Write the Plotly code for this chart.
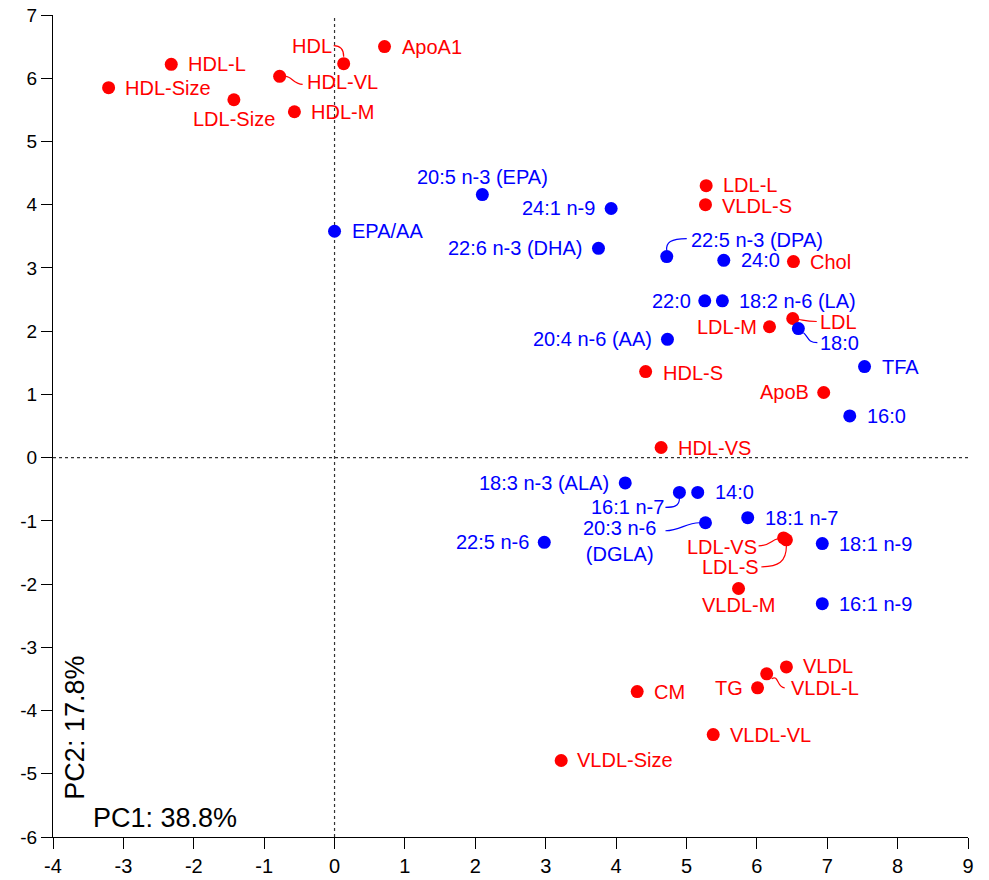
import plotly.graph_objects as go

# PCA loadings: lipoprotein / lipid measures (red) and fatty acids (blue)
lipid_names = ["HDL-L", "HDL-Size", "LDL-Size", "HDL-VL", "HDL-M", "HDL", "ApoA1",
               "LDL-L", "VLDL-S", "Chol", "LDL-M", "LDL", "HDL-S", "ApoB", "HDL-VS",
               "LDL-VS", "LDL-S", "VLDL-M", "VLDL", "VLDL-L", "TG", "CM", "VLDL-VL",
               "VLDL-Size"]
lipid_pc1 = [-2.32, -3.21, -1.43, -0.78, -0.57, 0.13, 0.71,
             5.28, 5.27, 6.52, 6.18, 6.51, 4.42, 6.95, 4.64,
             6.38, 6.42, 5.74, 6.42, 6.14, 6.01, 4.30, 5.38,
             3.22]
lipid_pc2 = [6.22, 5.85, 5.66, 6.03, 5.47, 6.23, 6.50,
             4.30, 4.00, 3.10, 2.07, 2.20, 1.36, 1.03, 0.16,
             -1.27, -1.30, -2.07, -3.31, -3.42, -3.64, -3.70, -4.38,
             -4.79]

fa_names = ["20:5 n-3 (EPA)", "24:1 n-9", "EPA/AA", "22:6 n-3 (DHA)", "22:5 n-3 (DPA)",
            "24:0", "22:0", "18:2 n-6 (LA)", "18:0", "20:4 n-6 (AA)", "TFA", "16:0",
            "18:3 n-3 (ALA)", "16:1 n-7", "14:0", "20:3 n-6<br>(DGLA)", "18:1 n-7",
            "22:5 n-6", "18:1 n-9", "16:1 n-9"]
fa_pc1 = [2.10, 3.93, 0.00, 3.75, 4.72,
          5.53, 5.26, 5.51, 6.59, 4.73, 7.53, 7.32,
          4.13, 4.90, 5.16, 5.27, 5.87,
          2.98, 6.93, 6.93]
fa_pc2 = [4.16, 3.94, 3.58, 3.31, 3.18,
          3.12, 2.48, 2.48, 2.04, 1.87, 1.44, 0.66,
          -0.40, -0.55, -0.55, -1.03, -0.95,
          -1.34, -1.36, -2.31]

x_ticks = list(range(-4, 10))
y_ticks = list(range(-6, 8))

RED = "#FF0000"
BLUE = "#0000FF"
FONT = "Liberation Sans, Arial, sans-serif"

# label placement: (xanchor, dx px, dy px downward)
placement = {
    "HDL-L": ("left", 16, 0), "HDL-Size": ("left", 15, 0), "LDL-Size": ("center", 0, 19),
    "HDL-VL": ("left", 26, 6), "HDL-M": ("left", 16, 0), "HDL": ("right", -11, -18),
    "ApoA1": ("left", 16, 0), "LDL-L": ("left", 16, -1), "VLDL-S": ("left", 16, 1),
    "Chol": ("left", 16, 0), "LDL-M": ("right", -12, 0), "LDL": ("left", 26, 3),
    "HDL-S": ("left", 16, 1), "ApoB": ("right", -14, 0), "HDL-VS": ("left", 16, 0),
    "LDL-VS": ("right", -26, 9), "LDL-S": ("right", -26, 27), "VLDL-M": ("center", 0, 16),
    "VLDL": ("left", 16, -1), "VLDL-L": ("left", 23, 14), "TG": ("right", -14, 0),
    "CM": ("left", 16, 0), "VLDL-VL": ("left", 16, 0), "VLDL-Size": ("left", 15, 0),
    "20:5 n-3 (EPA)": ("center", 0, -18), "24:1 n-9": ("right", -15, 0),
    "EPA/AA": ("left", 16, 0), "22:6 n-3 (DHA)": ("right", -14, 0),
    "22:5 n-3 (DPA)": ("left", 23, -17), "24:0": ("left", 16, 0), "22:0": ("right", -13, 0),
    "18:2 n-6 (LA)": ("left", 16, 0), "18:0": ("left", 21, 14),
    "20:4 n-6 (AA)": ("right", -14, 0), "TFA": ("left", 16, 0), "16:0": ("left", 16, 0),
    "18:3 n-3 (ALA)": ("right", -15, 0), "16:1 n-7": ("right", -14, 15),
    "14:0": ("left", 16, 0), "20:3 n-6<br>(DGLA)": ("right", -48, 18),
    "18:1 n-7": ("left", 16, 0), "22:5 n-6": ("right", -14, 0),
    "18:1 n-9": ("left", 16, 0), "16:1 n-9": ("left", 16, 0),
}

# curved leader lines, in pixel offsets from the point: start, ctrl1, ctrl2, end
leaders = {
    "HDL": [(0, -7), (0, -14), (-3, -18), (-10, -18)],
    "HDL-VL": [(6, 0), (12, 0), (14, 8), (23, 8)],
    "LDL": [(6, 1), (12, 2), (14, 3), (24, 3)],
    "18:0": [(5, 4), (10, 8), (9, 14), (19, 14)],
    "22:5 n-3 (DPA)": [(0, -6), (-1, -14), (4, -18), (20, -18)],
    "16:1 n-7": [(0, 6), (0, 14), (-6, 15), (-14, 15)],
    "20:3 n-6<br>(DGLA)": [(-6, 0), (-20, 0), (-25, 8), (-40, 8)],
    "LDL-VS": [(-6, 1), (-12, 2), (-14, 8), (-25, 8)],
    "LDL-S": [(0, 6), (0, 22), (-8, 27), (-25, 27)],
    "VLDL-L": [(5, 5), (12, 0), (10, 14), (18, 14)],
}

W, H = 989, 880
margin = dict(l=53, r=21, t=15, b=43)
xr, yr = (-4, 9), (-6, 7)
px_x = (W - margin["l"] - margin["r"]) / (xr[1] - xr[0])
px_y = (H - margin["t"] - margin["b"]) / (yr[1] - yr[0])

fig = go.Figure()
for names, xs, ys, col in [(lipid_names, lipid_pc1, lipid_pc2, RED),
                           (fa_names, fa_pc1, fa_pc2, BLUE)]:
    fig.add_trace(go.Scatter(x=xs, y=ys, mode="markers", text=names,
                             marker=dict(color=col, size=13, line=dict(width=0)),
                             hoverinfo="text+x+y", showlegend=False))

annotations = []
shapes = []
for names, xs, ys, col in [(lipid_names, lipid_pc1, lipid_pc2, RED),
                           (fa_names, fa_pc1, fa_pc2, BLUE)]:
    for n, x, y in zip(names, xs, ys):
        anchor, dx, dy = placement[n]
        annotations.append(dict(x=x, y=y, xref="x", yref="y", text=n, showarrow=False,
                                xanchor=anchor, yanchor="middle", xshift=dx, yshift=-dy,
                                align="center", borderpad=0,
                                font=dict(family=FONT, size=20, color=col)))
        if n in leaders:
            pts = [(x + ox / px_x, y - oy / px_y) for ox, oy in leaders[n]]
            path = "M {} {} C {} {}, {} {}, {} {}".format(
                *[v for p in pts for v in p])
            shapes.append(dict(type="path", path=path, xref="x", yref="y",
                               line=dict(color=col, width=1.2)))

# zero reference lines
shapes.append(dict(type="line", x0=0, x1=0, y0=yr[0], y1=yr[1], xref="x", yref="y",
                   line=dict(color="#333333", width=1.2, dash="3px,3px"), layer="below"))
shapes.append(dict(type="line", x0=xr[0], x1=xr[1], y0=0, y1=0, xref="x", yref="y",
                   line=dict(color="#333333", width=1.2, dash="3px,3px"), layer="below"))

# axis titles placed inside the plot area
annotations.append(dict(x=0.042, y=0.023, xref="paper", yref="paper", text="PC1: 38.8%",
                        showarrow=False, xanchor="left", yanchor="middle",
                        font=dict(family=FONT, size=27, color="black")))
annotations.append(dict(x=0.024, y=0.133, xref="paper", yref="paper", text="PC2: 17.8%",
                        showarrow=False, xanchor="center", yanchor="middle", textangle=-90,
                        font=dict(family=FONT, size=27, color="black")))

axis_common = dict(showgrid=False, zeroline=False, showline=True, linecolor="black",
                   linewidth=1.3, ticks="outside", ticklen=11, tickwidth=1.3,
                   tickcolor="black", mirror=False, automargin=False)

fig.update_layout(
    width=W, height=H, margin=margin,
    paper_bgcolor="white", plot_bgcolor="white",
    xaxis=dict(range=list(xr), tickvals=x_ticks, ticktext=[str(t) for t in x_ticks],
               tickfont=dict(family=FONT, size=20, color="black"), **axis_common),
    yaxis=dict(range=list(yr), tickvals=y_ticks, ticktext=[str(t) for t in y_ticks],
               tickfont=dict(family=FONT, size=19, color="black"), **axis_common),
    annotations=annotations, shapes=shapes,
)

fig.write_html("out.html")
